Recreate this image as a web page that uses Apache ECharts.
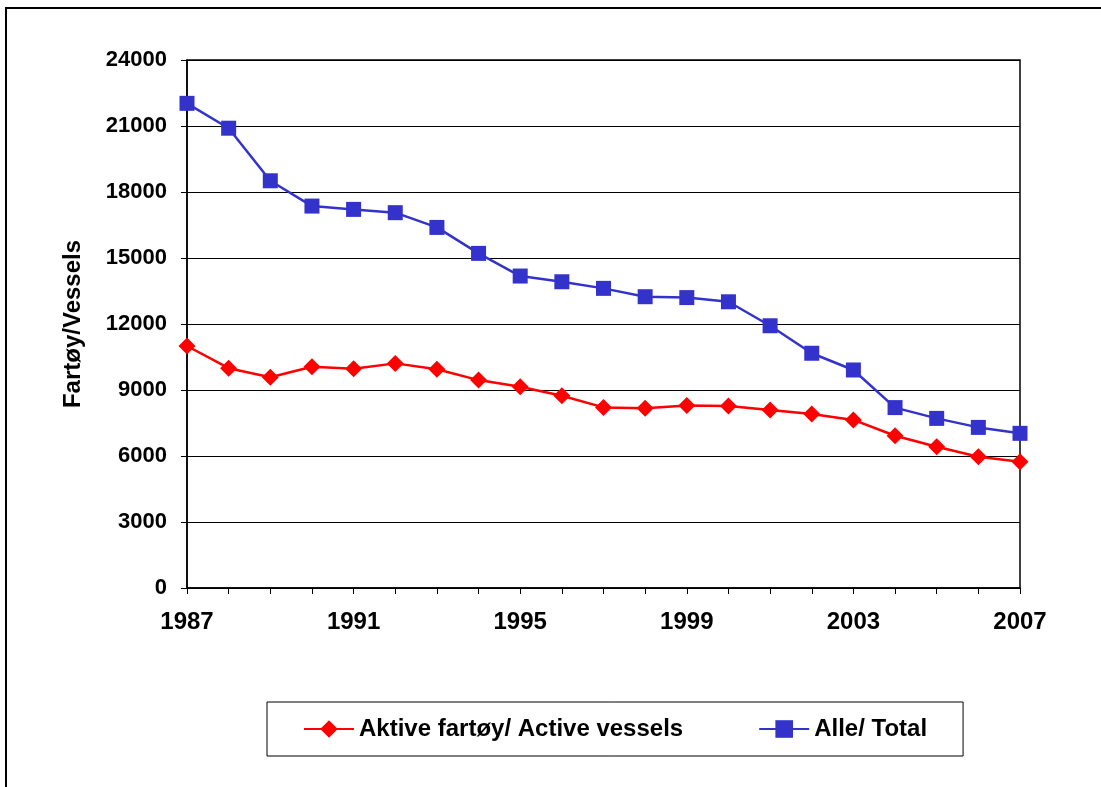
<!DOCTYPE html>
<html>
<head>
<meta charset="utf-8">
<script src="https://cdn.jsdelivr.net/npm/echarts@6/dist/echarts.min.js"></script>
<style>
  html, body { margin: 0; padding: 0; background: #fff; }
  #chart { width: 1101px; height: 787px; }
</style>
</head>
<body>
<div id="chart"></div>
<script>
// data
var years = ['1987', '1988', '1989', '1990', '1991', '1992', '1993', '1994', '1995', '1996', '1997',
             '1998', '1999', '2000', '2001', '2002', '2003', '2004', '2005', '2006', '2007'];
var activeVessels = [11000, 9990, 9580, 10060, 9970, 10210, 9940, 9450, 9150, 8740, 8210,
                     8170, 8290, 8270, 8090, 7910, 7640, 6920, 6420, 5970, 5740];
var totalVessels = [22030, 20900, 18510, 17360, 17210, 17060, 16390, 15210, 14180, 13920, 13620,
                    13240, 13200, 13010, 11920, 10670, 9910, 8200, 7710, 7300, 7030];

var font = 'Liberation Sans, Arial, sans-serif';

var chart = echarts.init(document.getElementById('chart'));
var option = {
    backgroundColor: '#fff',
    animation: false,
    textStyle: { fontFamily: font },
    grid: {
        left: 187,
        right: 81,
        top: 60,
        bottom: 199,
        show: true,
        borderColor: '#000',
        borderWidth: 1.5,
        containLabel: false
    },
    legend: {
        left: 267,
        top: 702,
        padding: [15, 36, 15, 36],
        itemGap: 75,
        itemWidth: 50,
        itemHeight: 22,
        borderColor: '#000',
        borderWidth: 1,
        textStyle: { fontSize: 24, fontWeight: 'bold', color: '#000', fontFamily: font },
        data: ['Aktive fartøy/ Active vessels', 'Alle/ Total']
    },
    xAxis: {
        type: 'category',
        data: years,
        boundaryGap: false,
        axisLine: { lineStyle: { color: '#000', width: 1.5 } },
        axisTick: { show: true, interval: 0, length: 6, lineStyle: { color: '#000' } },
        axisLabel: {
            interval: 3,
            margin: 22,
            fontSize: 24,
            fontWeight: 'bold',
            color: '#000',
            fontFamily: font
        },
        splitLine: { show: false }
    },
    yAxis: {
        type: 'value',
        min: 0,
        max: 24000,
        interval: 3000,
        name: 'Fartøy/Vessels',
        nameLocation: 'middle',
        nameGap: 102,
        nameTextStyle: { fontSize: 24, fontWeight: 'bold', color: '#000', fontFamily: font },
        axisLine: { show: true, lineStyle: { color: '#000', width: 1.5 } },
        axisTick: { show: true, length: 6, lineStyle: { color: '#000' } },
        axisLabel: {
            margin: 20,
            fontSize: 22,
            fontWeight: 'bold',
            color: '#000',
            fontFamily: font,
            formatter: function (v) { return String(v); }
        },
        splitLine: { show: true, lineStyle: { color: '#000', width: 1.2 } }
    },
    series: [
        {
            name: 'Aktive fartøy/ Active vessels',
            type: 'line',
            data: activeVessels,
            symbol: 'diamond',
            symbolSize: 17,
            itemStyle: { color: '#ff0000' },
            lineStyle: { color: '#ff0000', width: 2.5 }
        },
        {
            name: 'Alle/ Total',
            type: 'line',
            data: totalVessels,
            symbol: 'rect',
            symbolSize: 15,
            itemStyle: { color: '#3333cc' },
            lineStyle: { color: '#3333cc', width: 2.5 }
        }
    ],
    graphic: [
        {
            type: 'polyline',
            shape: { points: [[6, 787], [6, 8], [1101, 8]] },
            style: { stroke: '#000', lineWidth: 2, fill: null }
        }
    ]
};
chart.setOption(option);
</script>
</body>
</html>
